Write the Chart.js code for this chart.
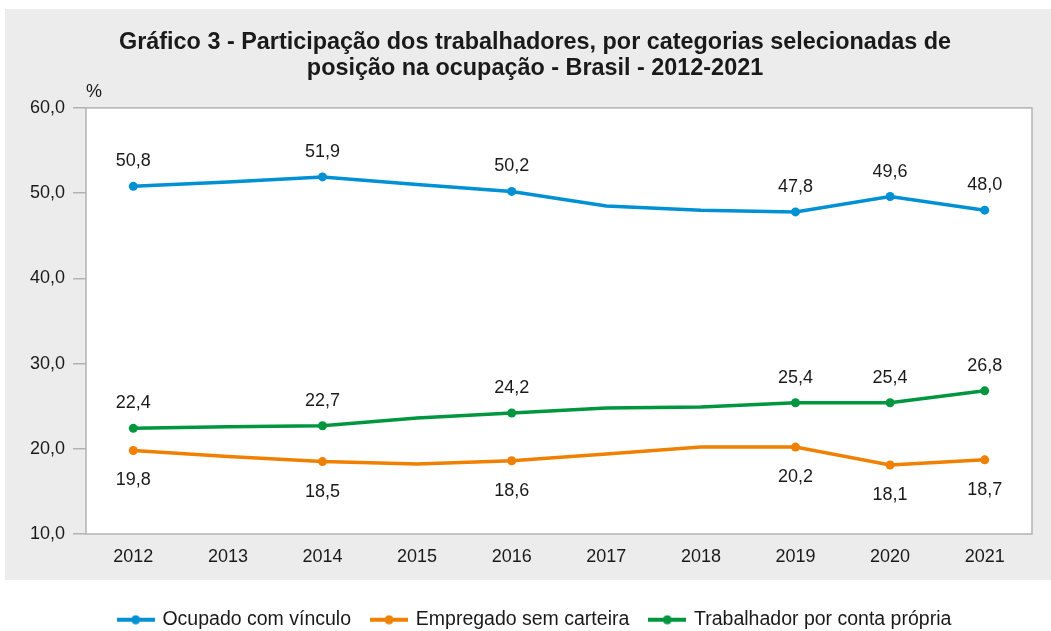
<!DOCTYPE html>
<html lang="pt-BR">
<head>
<meta charset="utf-8">
<title>Gráfico 3</title>
<script src="https://cdn.jsdelivr.net/npm/chart.js@4.4.0/dist/chart.umd.min.js"></script>
<style>
  html, body { margin: 0; padding: 0; background: #fff; }
  canvas { display: block; }
</style>
</head>
<body>
<canvas id="grafico" width="1051" height="631"></canvas>
<script>
// dados (%)
const anos = ['2012', '2013', '2014', '2015', '2016', '2017', '2018', '2019', '2020', '2021'];
const ocupadoComVinculo = [50.8, 51.3, 51.9, 51.0, 50.2, 48.5, 48.0, 47.8, 49.6, 48.0];
const empregadoSemCarteira = [19.8, 19.1, 18.5, 18.2, 18.6, 19.4, 20.2, 20.2, 18.1, 18.7];
const trabalhadorContaPropria = [22.4, 22.6, 22.7, 23.6, 24.2, 24.8, 24.9, 25.4, 25.4, 26.8];
const anosMarcados = ['2012', '2014', '2016', '2019', '2020', '2021'];
const ticksY = [10, 20, 30, 40, 50, 60];

const FONTE = "'Liberation Sans', Arial, sans-serif";
const fmt = v => v.toFixed(1).replace('.', ',');

// simbolo da legenda: linha com bolinha no meio
function simbolo(cor) {
  const c = document.createElement('canvas');
  c.width = 38; c.height = 10;
  const g = c.getContext('2d');
  g.strokeStyle = cor; g.lineWidth = 4;
  g.beginPath(); g.moveTo(0, 5); g.lineTo(38, 5); g.stroke();
  g.fillStyle = cor;
  g.beginPath(); g.arc(19, 5, 4.5, 0, Math.PI * 2); g.fill();
  return c;
}

const fundo = {
  id: 'fundo',
  // titulo e legenda ficam centrados um pouco mais a direita, como no original
  afterLayout(chart) {
    chart.titleBlock.left = 38;
    chart.legend.left = 38;
  },
  beforeDraw(chart) {
    const { ctx, chartArea: a } = chart;
    ctx.save();
    ctx.fillStyle = '#ececec';
    ctx.fillRect(5, 9, chart.width - 5, 571);
    ctx.fillStyle = '#fff';
    ctx.fillRect(a.left, a.top, a.right - a.left, a.bottom - a.top);
    ctx.restore();
  },
  beforeDatasetsDraw(chart) {
    const { ctx, chartArea: a } = chart;
    ctx.save();
    ctx.strokeStyle = '#b3b3b3';
    ctx.lineWidth = 1.5;
    ctx.strokeRect(a.left, a.top, a.right - a.left, a.bottom - a.top);
    ctx.fillStyle = '#1a1a1a';
    ctx.font = '18px ' + FONTE;
    ctx.textAlign = 'center';
    ctx.textBaseline = 'middle';
    ctx.fillText('%', a.left + 8, a.top - 16);
    ctx.restore();
  }
};

const rotulos = {
  id: 'rotulos',
  afterDatasetsDraw(chart) {
    const ctx = chart.ctx;
    ctx.save();
    ctx.fillStyle = '#1a1a1a';
    ctx.font = '18px ' + FONTE;
    ctx.textAlign = 'center';
    ctx.textBaseline = 'middle';
    chart.data.datasets.forEach((ds, i) => {
      chart.getDatasetMeta(i).data.forEach((pt, j) => {
        if (!anosMarcados.includes(anos[j])) return;
        ctx.fillText(fmt(ds.data[j]), pt.x, pt.y + ds.rotuloDy);
      });
    });
    ctx.restore();
  }
};

const raioPonto = ctx => anosMarcados.includes(anos[ctx.dataIndex]) ? 4.5 : 0;

function serie(nome, dados, cor, dy) {
  return {
    label: nome,
    data: dados,
    borderColor: cor,
    backgroundColor: cor,
    borderWidth: 3.5,
    tension: 0,
    pointRadius: raioPonto,
    pointHoverRadius: raioPonto,
    pointBorderWidth: 0,
    rotuloDy: dy
  };
}

const cores = ['#0090d4', '#f08000', '#00963f'];

new Chart(document.getElementById('grafico'), {
  type: 'line',
  data: {
    labels: anos,
    datasets: [
      serie('Ocupado com vínculo', ocupadoComVinculo, cores[0], -25),
      serie('Empregado sem carteira', empregadoSemCarteira, cores[1], 30),
      serie('Trabalhador por conta própria', trabalhadorContaPropria, cores[2], -25)
    ]
  },
  options: {
    responsive: false,
    animation: false,
    layout: { padding: { left: 0, right: 19, top: 0, bottom: 0 } },
    plugins: {
      title: {
        display: true,
        text: ['Gráfico 3 - Participação dos trabalhadores, por categorias selecionadas de',
               'posição na ocupação - Brasil - 2012-2021'],
        color: '#1a1a1a',
        font: { family: FONTE, size: 23.4, weight: 'bold', lineHeight: 1.12 },
        padding: { top: 29, bottom: 26.5 }
      },
      legend: {
        position: 'bottom',
        maxHeight: 42,
        labels: {
          color: '#1a1a1a',
          font: { family: FONTE, size: 19.5 },
          usePointStyle: true,
          pointStyleWidth: 34,
          padding: 21,
          generateLabels: chart => Chart.defaults.plugins.legend.labels.generateLabels(chart)
            .map((l, i) => ({ ...l, pointStyle: simbolo(cores[i]) }))
        }
      },
      tooltip: { enabled: false }
    },
    scales: {
      x: {
        offset: true,
        grid: { display: false, drawTicks: false },
        border: { display: false },
        ticks: { color: '#1a1a1a', font: { family: FONTE, size: 18 }, padding: 12 },
        afterFit: s => { s.height = 55; }
      },
      y: {
        min: ticksY[0],
        max: ticksY[ticksY.length - 1],
        ticks: {
          stepSize: 10,
          color: '#1a1a1a',
          font: { family: FONTE, size: 18 },
          padding: 8,
          callback: v => fmt(v)
        },
        grid: { drawOnChartArea: false, drawTicks: true, tickLength: 13, color: '#b3b3b3', lineWidth: 1.5 },
        border: { display: false },
        afterFit: s => { s.width = 86; }
      }
    }
  },
  plugins: [fundo, rotulos]
});
</script>
</body>
</html>
